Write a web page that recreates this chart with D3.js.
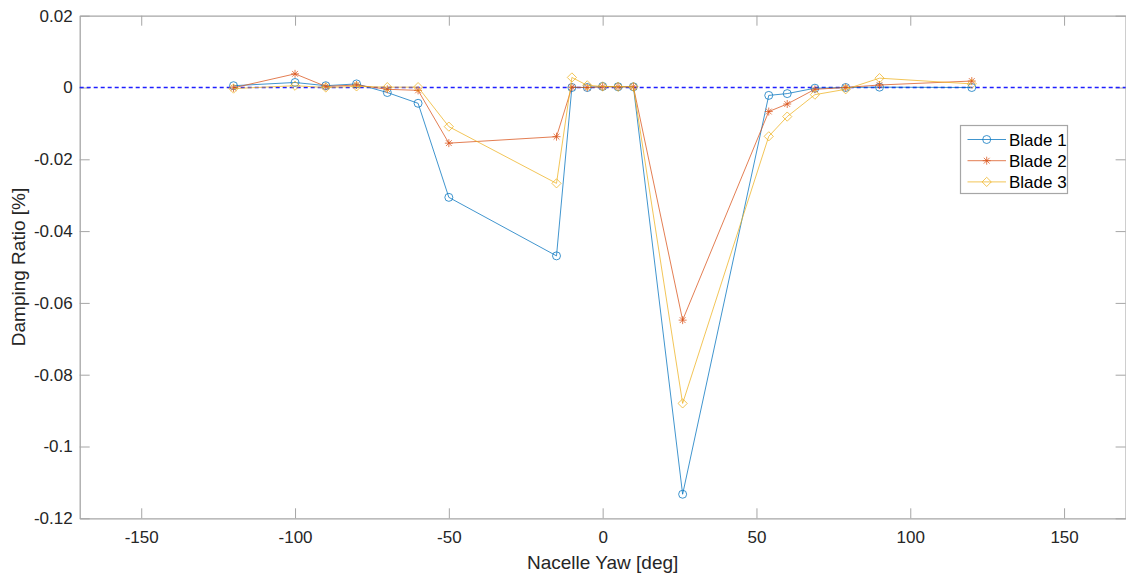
<!DOCTYPE html>
<html>
<head>
<meta charset="utf-8">
<script src="https://cdn.jsdelivr.net/npm/d3@7"></script>
<style>
  body { margin: 0; background: #fff; }
  svg { display: block; font-family: "Liberation Sans", Arial, sans-serif; }
  .axis path, .axis line { stroke: #a6a6a6; }
  .axis text { fill: #262626; font-size: 17px; }
  .lab { fill: #262626; font-size: 19px; }
</style>
</head>
<body>
<svg id="chart" width="1126" height="573"></svg>
<script>
// yaw angles [deg]
const yaw = [-120, -100, -90, -80, -70, -60, -50, -15, -10, -5, 0, 5, 10, 26, 54, 60, 69, 79, 90, 120];

// damping ratio per blade [%]
const blade1 = [0.0005, 0.0014, 0.0005, 0.0010, -0.0014, -0.0044, -0.0306, -0.0469, 0.0000, 0.0000, 0.0003, 0.0002, 0.0002,
  -0.1133, -0.0022, -0.0017, -0.0002, 0.0000, 0.0001, 0.0000];
const blade2 = [-0.0001, 0.0038, 0.0003, 0.0007, -0.0005, -0.0008, -0.0155, -0.0137, 0.0001, 0.0000, 0.0002, 0.0002, 0.0002,
  -0.0648, -0.0067, -0.0046, -0.0005, 0.0000, 0.0007, 0.0018];
const blade3 = [-0.0003, 0.0005, 0.0000, 0.0003, 0.0001, 0.0001, -0.0109, -0.0267, 0.0028, 0.0006, 0.0003, 0.0002, 0.0002,
  -0.0880, -0.0136, -0.0081, -0.0020, -0.0005, 0.0026, 0.0010];

const seriesNames = ['Blade 1', 'Blade 2', 'Blade 3'];
const xTicks = [-150, -100, -50, 0, 50, 100, 150];
const yTicks = [0.02, 0, -0.02, -0.04, -0.06, -0.08, -0.1, -0.12];

const colors = ['#0072bd', '#d95319', '#edb120'];
const markers = ['circle', 'star', 'diamond'];

const svg = d3.select('#chart');
const L = 79.7, R = 1125.6, T = 15.7, B = 518.3;

const x = d3.scaleLinear().domain([-170, 170]).range([L, R]);
const y = d3.scaleLinear().domain([-0.12, 0.02]).range([B, T]);

// plain hyphen minus, like the original
const fmt = (d) => String(d);

// axes (ticks inward, box on)
svg.append('g').attr('class', 'axis').attr('transform', `translate(0,${B})`)
  .call(d3.axisBottom(x).tickValues(xTicks).tickSizeInner(-10).tickSizeOuter(0).tickPadding(13).tickFormat(fmt))
  .call((g) => g.selectAll('text').attr('dy', '0.71em'));
svg.append('g').attr('class', 'axis').attr('transform', `translate(0,${T})`)
  .call(d3.axisTop(x).tickValues(xTicks).tickSizeInner(-10).tickSizeOuter(0).tickFormat(''));
svg.append('g').attr('class', 'axis').attr('transform', `translate(${L},0)`)
  .call(d3.axisLeft(y).tickValues(yTicks).tickSizeInner(-10).tickSizeOuter(0).tickPadding(7).tickFormat(fmt));
svg.append('g').attr('class', 'axis').attr('transform', `translate(${R},0)`)
  .call(d3.axisRight(y).tickValues(yTicks).tickSizeInner(-10).tickSizeOuter(0).tickFormat(''));

svg.selectAll('.axis .domain').attr('stroke-width', 1.3);

// zero reference line
svg.append('line')
  .attr('x1', x(-170)).attr('x2', x(170))
  .attr('y1', y(0)).attr('y2', y(0))
  .style('stroke', '#1f1fff').style('stroke-width', 1.3)
  .style('stroke-dasharray', '4,3');

// marker paths
function markerPath(type, cx, cy) {
  const p = d3.path();
  if (type === 'circle') {
    p.moveTo(cx + 4, cy);
    p.arc(cx, cy, 4, 0, 2 * Math.PI);
  } else if (type === 'star') {
    const r = 4, d = 2.9;
    p.moveTo(cx - r, cy); p.lineTo(cx + r, cy);
    p.moveTo(cx, cy - r); p.lineTo(cx, cy + r);
    p.moveTo(cx - d, cy - d); p.lineTo(cx + d, cy + d);
    p.moveTo(cx - d, cy + d); p.lineTo(cx + d, cy - d);
  } else {
    const r = 4.6;
    p.moveTo(cx, cy - r); p.lineTo(cx + r, cy); p.lineTo(cx, cy + r); p.lineTo(cx - r, cy); p.closePath();
  }
  return p.toString();
}

const series = [blade1, blade2, blade3];
const line = d3.line().x((d) => x(d[0])).y((d) => y(d[1]));

series.forEach((vals, i) => {
  const pts = yaw.map((v, j) => [v, vals[j]]);
  const g = svg.append('g');
  g.append('path').datum(pts)
    .attr('d', line).attr('fill', 'none')
    .attr('stroke', colors[i]).attr('stroke-width', 1).attr('stroke-opacity', 0.75);
  g.selectAll('path.m').data(pts).join('path').attr('class', 'm')
    .attr('d', (d) => markerPath(markers[i], x(d[0]), y(d[1])))
    .attr('fill', 'none').attr('stroke', colors[i]).attr('stroke-width', 1).attr('stroke-opacity', 0.75);
});

// axis labels
svg.append('text').attr('class', 'lab')
  .attr('x', x(0)).attr('y', 569).attr('text-anchor', 'middle')
  .text('Nacelle Yaw [deg]');
svg.append('text').attr('class', 'lab')
  .attr('transform', `translate(25,${(T + B) / 2}) rotate(-90)`)
  .attr('text-anchor', 'middle')
  .text('Damping Ratio [%]');

// legend
const lg = svg.append('g');
lg.append('rect').attr('x', 960.5).attr('y', 125.5).attr('width', 107).attr('height', 68)
  .attr('fill', '#fff').attr('stroke', '#a6a6a6').attr('stroke-width', 1.2);
seriesNames.forEach((name, i) => {
  const cy = 139.5 + i * 21.2;
  lg.append('line').attr('x1', 967.5).attr('x2', 1006).attr('y1', cy).attr('y2', cy)
    .attr('stroke', colors[i]).attr('stroke-width', 1).attr('stroke-opacity', 0.75);
  lg.append('path').attr('d', markerPath(markers[i], 986.7, cy))
    .attr('fill', 'none').attr('stroke', colors[i]).attr('stroke-width', 1).attr('stroke-opacity', 0.75);
  lg.append('text').attr('x', 1009).attr('y', cy).attr('dy', '0.36em')
    .attr('fill', '#000').attr('font-size', 17).text(name);
});
</script>
</body>
</html>
